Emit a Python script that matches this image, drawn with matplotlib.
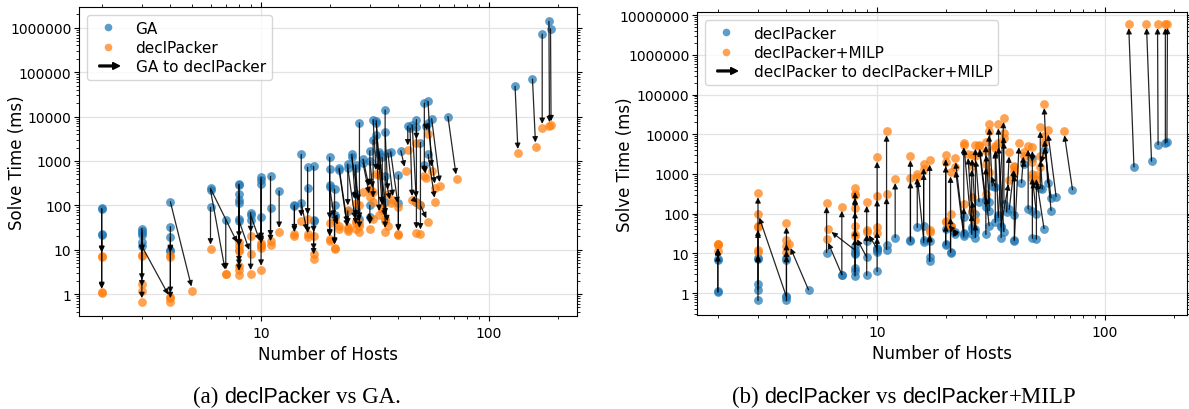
import matplotlib
matplotlib.use("Agg")
import matplotlib.pyplot as plt
import matplotlib.patches as mpatches
from matplotlib.lines import Line2D
from matplotlib.legend_handler import HandlerPatch
from matplotlib.ticker import FuncFormatter, NullFormatter

# ---------------- data (index-paired runs) ----------------
ga_hosts = [2, 2, 2, 2, 3, 3, 3, 3, 3, 3, 4, 4, 4, 4, 4, 6, 6, 6, 7, 8,
            8, 8, 8, 8, 8, 8, 9, 9, 10, 10, 10, 10, 9, 11, 11, 12, 14, 14, 15, 15,
            16, 16, 17, 17, 17, 20, 20, 20, 20, 21, 21, 21, 21, 22, 22, 24, 24, 24, 25, 25,
            26, 26, 27, 26, 26, 27, 28, 28, 30, 30, 30, 30, 31, 31, 32, 32, 32, 33, 33, 34,
            35, 35, 35, 35, 36, 37, 40, 40, 41, 44, 45, 46, 48, 48, 48, 50, 50, 52, 52, 53,
            54, 54, 54, 56, 66, 130, 155, 171, 183, 186]
ga_ms = [85, 82, 21, 22, 30, 27, 24, 21, 15, 12, 33, 19, 10, 9.5, 120, 90, 220, 240, 47, 300,
         290, 180, 130, 115, 50, 45, 68, 47, 430, 380, 310, 55, 60, 450, 85, 210, 100, 95, 1400, 115,
         720, 250, 750, 47, 45, 1200, 650, 290, 260, 230, 100, 60, 55, 680, 630, 850, 700, 75, 1400, 1200,
         800, 700, 7200, 180, 80, 50, 1100, 900, 1700, 1000, 100, 55, 8500, 3000, 8000, 7000, 3800, 1600, 1400, 1200,
         14000, 4600, 450, 120, 1500, 1600, 480, 110, 1700, 6000, 5500, 6500, 8500, 5800, 120, 2600, 100, 20000, 800, 6000,
         22000, 7000, 1400, 9000, 10000, 48000, 70000, 720000, 1400000, 950000]
dp_hosts = [2, 2, 2, 2, 3, 3, 3, 3, 3, 4, 4, 4, 4, 4, 5, 6, 7, 8, 7, 8,
            8, 8, 8, 8, 8, 9, 9, 9, 10, 10, 10, 10, 10, 11, 11, 12, 14, 14, 15, 16,
            16, 16, 17, 17, 17, 20, 20, 20, 21, 21, 21, 22, 22, 24, 24, 24, 26, 24, 26, 27,
            26, 27, 27, 28, 26, 27, 30, 30, 30, 31, 30, 31, 32, 31, 33, 34, 33, 35, 36, 34,
            35, 36, 37, 35, 38, 40, 40, 40, 43, 44, 46, 48, 48, 48, 50, 50, 54, 52, 53, 54,
            56, 58, 58, 61, 72, 134, 160, 171, 184, 187]
dp_ms = [7, 7.2, 1.05, 1.1, 7.2, 7.5, 1.7, 1.2, 0.65, 0.8, 7, 0.85, 0.65, 7.5, 1.2, 10.5, 2.9, 12, 2.9, 15,
         10, 9.5, 4.2, 3.5, 2.7, 8, 20, 2.8, 14, 12, 11, 3.5, 13, 16, 12.5, 25, 22, 20, 45, 22,
         50, 19, 20, 8, 6.3, 40, 17, 16, 45, 11, 10.5, 35, 30, 33, 27, 80, 40, 30, 110, 100,
         45, 35, 25, 200, 30, 40, 220, 150, 230, 200, 30, 50, 500, 120, 480, 90, 60, 45, 35, 80,
         25, 180, 110, 50, 130, 90, 21, 22, 600, 1800, 130, 120, 2500, 24, 100, 23, 42, 450, 420, 4000,
         600, 250, 120, 270, 400, 1500, 2100, 5500, 6000, 6300]
milp_hosts = [2, 2, 2, 2, 3, 3, 3, 3, 3, 3, 4, 4, 4, 4, 4.1, 6, 6, 6.1, 7, 8,
              8, 8, 8, 8, 8, 8, 9, 9, 10, 10, 10, 10, 9, 11, 11, 12, 14, 14, 15, 15,
              16, 16, 17, 17, 17, 20, 20, 20, 20, 21, 21, 21, 21, 22, 22, 24, 24, 24, 25, 26,
              26, 26, 27, 27, 26, 27, 28, 28, 30, 30, 30, 30, 31, 31, 31, 33, 33, 34, 34, 36,
              36, 36, 38, 38, 40, 40, 42, 40, 44, 44, 46, 48, 48, 48, 48, 50, 50, 52, 52, 52,
              54, 54, 54, 56, 66, 127, 152, 170, 184, 188]
milp_ms = [11.5, 17, 17, 16, 12, 11, 45, 50, 330, 100, 58, 22, 11, 15, 17, 190, 23, 40, 150, 450,
           320, 300, 140, 50, 30, 28, 200, 38, 2600, 280, 45, 32, 35, 12000, 320, 750, 2800, 800, 1000, 850,
           1800, 1300, 2200, 38, 35, 3000, 2000, 65, 60, 1100, 100, 50, 48, 2500, 1500, 6000, 5500, 180, 3200, 3000,
           1600, 260, 5500, 2800, 120, 70, 5500, 5000, 6500, 3800, 1800, 320, 18000, 12000, 1100, 5000, 4500, 18000, 6000, 26000,
           11000, 8000, 3500, 700, 1600, 1200, 6000, 1500, 3500, 2800, 5200, 4800, 2000, 1000, 800, 950, 750, 15000, 2800, 1500,
           58000, 6000, 9000, 12500, 12000, 6000000, 6000000, 6000000, 6000000, 6100000]

BLUE = "#1f77b4"
ORANGE = "#ff7f0e"

plt.rcParams["font.family"] = ["DejaVu Sans"]

fig = plt.figure(figsize=(11.89, 4.10), dpi=100)
W, H = 1189.0, 410.0
axA = fig.add_axes([79 / W, 1 - 317 / H, (577 - 79) / W, (317 - 8) / H])
axB = fig.add_axes([697 / W, 1 - 316 / H, (1187 - 697) / W, (316 - 13) / H])


def arrow_handle(legend, orig_handle, xdescent, ydescent, width, height, fontsize):
    return mpatches.FancyArrow(-xdescent + 0.2 * width, -ydescent + 0.5 * height,
                               0.68 * width, 0, width=1.3, head_width=5.0,
                               head_length=5.0, length_includes_head=True,
                               color="black")


def panel(ax, x0, y0, x1, y1, c0, c1, lab0, lab1, lab_arrow, ylim, xlim, ylab_x):
    ax.scatter(x0, y0, s=40, color=c0, alpha=0.72, linewidths=0, zorder=2)
    ax.scatter(x1, y1, s=40, color=c1, alpha=0.72, linewidths=0, zorder=2)
    for a, b, c, d in zip(x0, y0, x1, y1):
        ax.annotate("", xy=(c, d), xytext=(a, b),
                    arrowprops=dict(arrowstyle="-|>", color="black", lw=0.9,
                                    alpha=0.85, mutation_scale=8,
                                    shrinkA=0, shrinkB=3),
                    zorder=3)
    ax.set_xscale("log")
    ax.set_yscale("log")
    ax.set_xlim(*xlim)
    ax.set_ylim(*ylim)
    ax.grid(True, which="major", color="#e3e3e3", lw=0.9)
    ax.set_axisbelow(True)
    fmt = FuncFormatter(lambda v, p: ("%d" % round(v)) if v >= 1 else ("%g" % v))
    ax.xaxis.set_major_formatter(fmt)
    ax.yaxis.set_major_formatter(fmt)
    ax.xaxis.set_minor_formatter(NullFormatter())
    ax.yaxis.set_minor_formatter(NullFormatter())
    ax.tick_params(which="both", top=True, right=True, direction="out", labelsize=10)
    ax.tick_params(axis="y", which="major", pad=2)
    ax.set_xlabel("Number of Hosts", fontsize=12)
    ax.set_ylabel("Solve Time (ms)", fontsize=12)
    ax.yaxis.set_label_coords(ylab_x, 0.5)
    arr = mpatches.FancyArrow(0, 0, 1, 0, color="black")
    handles = [
        Line2D([], [], ls="none", marker="o", ms=5.5, color=c0, alpha=0.72, mew=0),
        Line2D([], [], ls="none", marker="o", ms=5.5, color=c1, alpha=0.72, mew=0),
        arr,
    ]
    ax.legend(handles, [lab0, lab1, lab_arrow], loc="upper left", fontsize=11,
              labelspacing=0.28,
              handler_map={mpatches.FancyArrow: HandlerPatch(patch_func=arrow_handle)})


panel(axA, ga_hosts, ga_ms, dp_hosts, dp_ms, BLUE, ORANGE,
      "GA", "declPacker", "GA to declPacker",
      (0.32, 2.95e6), (1.59, 243), -0.106)
panel(axB, dp_hosts, dp_ms, milp_hosts, milp_ms, BLUE, ORANGE,
      "declPacker", "declPacker+MILP", "declPacker to declPacker+MILP",
      (0.28, 1.2e7), (1.62, 229), -0.129)

# ---------------- captions (serif with sans-serif tool name) ----------------
renderer = fig.canvas.get_renderer()
SERIF = ("Liberation Serif", 16.5)
SANS = ("Liberation Sans", 15.5)


def caption(xc_px, base_px, parts):
    texts = []
    for s, (fam, size) in parts:
        t = fig.text(0, 1 - base_px / H, s, family=fam, fontsize=size,
                     va="baseline", ha="left")
        texts.append(t)
    widths = [t.get_window_extent(renderer).width for t in texts]
    gap = 0.25 * 16.5 * 100 / 72.0
    gaps = [0 if s.startswith("+") or s.startswith(".") else gap for s, _ in parts]
    gaps[0] = 0
    total = sum(widths) + sum(gaps)
    x = xc_px - total / 2
    for t, w, g in zip(texts, widths, gaps):
        x += g
        t.set_x(x / W)
        x += w


caption(297, 403, [("(a)", SERIF), ("declPacker", SANS), ("vs GA.", SERIF)])
caption(904, 403, [("(b)", SERIF), ("declPacker", SANS), ("vs", SERIF),
                   ("declPacker", SANS), ("+MILP", SERIF)])

fig.savefig("out.png", dpi=100)
